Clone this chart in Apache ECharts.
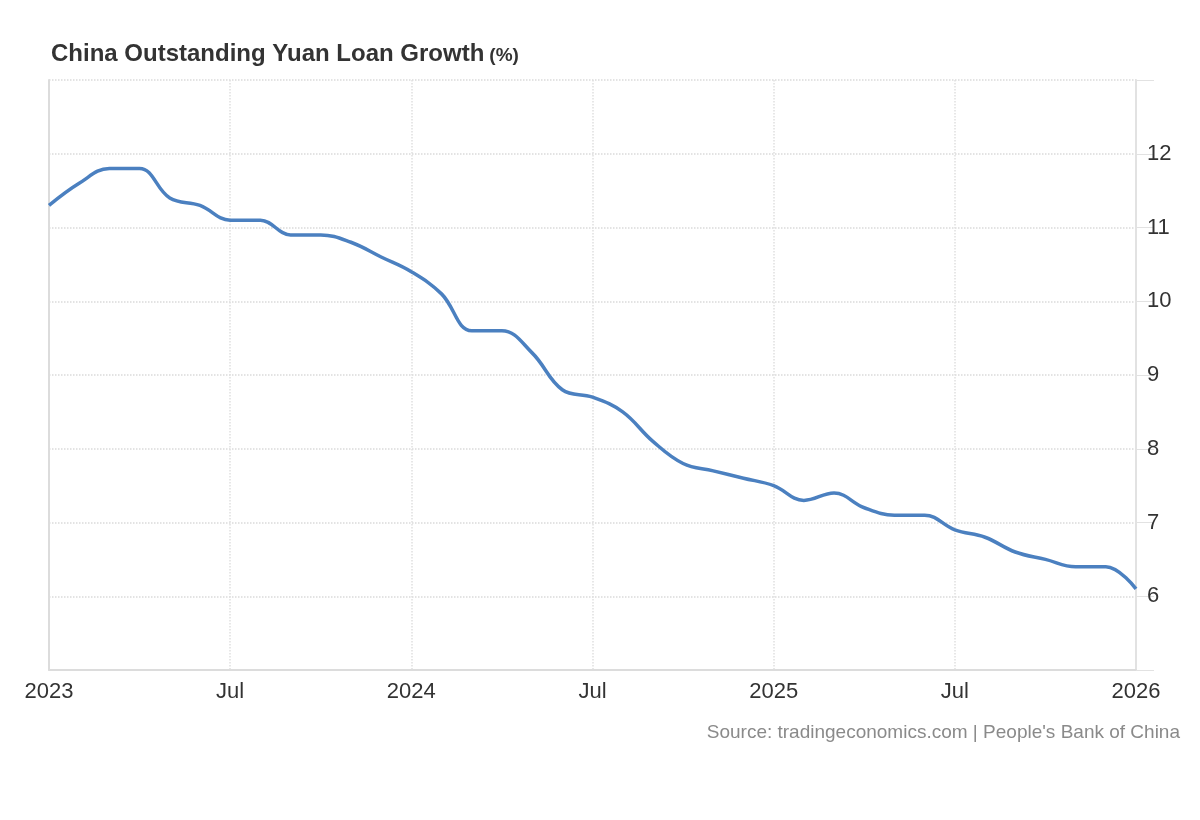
<!DOCTYPE html>
<html>
<head>
<meta charset="utf-8">
<script src="https://cdn.jsdelivr.net/npm/echarts@6/dist/echarts.min.js"></script>
<style>
html,body{margin:0;padding:0;background:#fff;}
#chart{width:1200px;height:820px;}
</style>
</head>
<body>
<div id="chart"></div>
<script>
const months = [
  '2023-01','2023-02','2023-03','2023-04','2023-05','2023-06','2023-07','2023-08','2023-09','2023-10','2023-11','2023-12',
  '2024-01','2024-02','2024-03','2024-04','2024-05','2024-06','2024-07','2024-08','2024-09','2024-10','2024-11','2024-12',
  '2025-01','2025-02','2025-03','2025-04','2025-05','2025-06','2025-07','2025-08','2025-09','2025-10','2025-11','2025-12',
  '2026-01'
];
const loanGrowth = [
  11.3, 11.6, 11.8, 11.8, 11.4, 11.3, 11.1, 11.1, 10.9, 10.9, 10.8, 10.6,
  10.4, 10.1, 9.6, 9.6, 9.3, 8.8, 8.7, 8.5, 8.1, 7.8, 7.7, 7.6,
  7.5, 7.3, 7.4, 7.2, 7.1, 7.1, 6.9, 6.8, 6.6, 6.5, 6.4, 6.4,
  6.1
];
const xTickLabels = {0:'2023', 6:'Jul', 12:'2024', 18:'Jul', 24:'2025', 30:'Jul', 36:'2026'};
const yTicks = [5, 6, 7, 8, 9, 10, 11, 12, 13];

const FONT = 'Liberation Sans, Arial, sans-serif';
const chart = echarts.init(document.getElementById('chart'));
chart.setOption({
  animation: false,
  backgroundColor: '#fff',
  textStyle: { fontFamily: FONT },
  title: {
    text: '{a|China Outstanding Yuan Loan Growth} {b|(%)}',
    left: 46, top: 37,
    textStyle: {
      rich: {
        a: { fontSize: 24, fontWeight: 'bold', color: '#333', fontFamily: FONT },
        b: { fontSize: 19, fontWeight: 'bold', color: '#333', fontFamily: FONT, padding: [4,0,0,0] }
      }
    }
  },
  grid: { left: 49, right: 64, top: 80, bottom: 150, containLabel: false },
  xAxis: {
    type: 'category',
    data: months,
    boundaryGap: false,
    axisLine: { show: true, lineStyle: { color: '#dcdcdc', width: 2 } },
    axisTick: { show: false },
    axisLabel: {
      interval: 0,
      margin: 11,
      fontSize: 22,
      color: '#333',
      formatter: (v, i) => xTickLabels[i] || ''
    },
    splitLine: {
      show: true,
      interval: (i) => xTickLabels[i] !== undefined && i !== 0,
      lineStyle: { type: 'dotted', color: '#e0e0e0', width: 1.5 }
    }
  },
  yAxis: [{
    type: 'value',
    position: 'right',
    min: yTicks[0], max: yTicks[yTicks.length - 1], interval: 1,
    axisLine: { show: true, lineStyle: { color: '#e2e2e2', width: 2 } },
    axisTick: { show: true, inside: false, length: 18, lineStyle: { color: '#e2e2e2', width: 1 } },
    axisLabel: {
      margin: 11, fontSize: 22, color: '#333',
      formatter: (v) => (v === 5 || v === 13) ? '' : String(v)
    },
    splitLine: { show: true, lineStyle: { type: 'dotted', color: '#dadada', width: 1.5 } }
  }, {
    type: 'value',
    position: 'left',
    min: yTicks[0], max: yTicks[yTicks.length - 1], interval: 1,
    axisLine: { show: true, lineStyle: { color: '#dcdcdc', width: 2 } },
    axisTick: { show: false },
    axisLabel: { show: false },
    splitLine: { show: false }
  }],
  series: [{
    type: 'line',
    data: loanGrowth,
    yAxisIndex: 0,
    smooth: 0.4,
    showSymbol: false,
    lineStyle: { color: '#4b80c0', width: 3.5 },
    itemStyle: { color: '#4b80c0' }
  }],
  graphic: [{
    type: 'text',
    right: 20, top: 723,
    style: {
      text: "Source: tradingeconomics.com | People's Bank of China",
      fontSize: 19, fill: '#8a8a8a',
      fontFamily: FONT
    }
  }]
});
</script>
</body>
</html>
